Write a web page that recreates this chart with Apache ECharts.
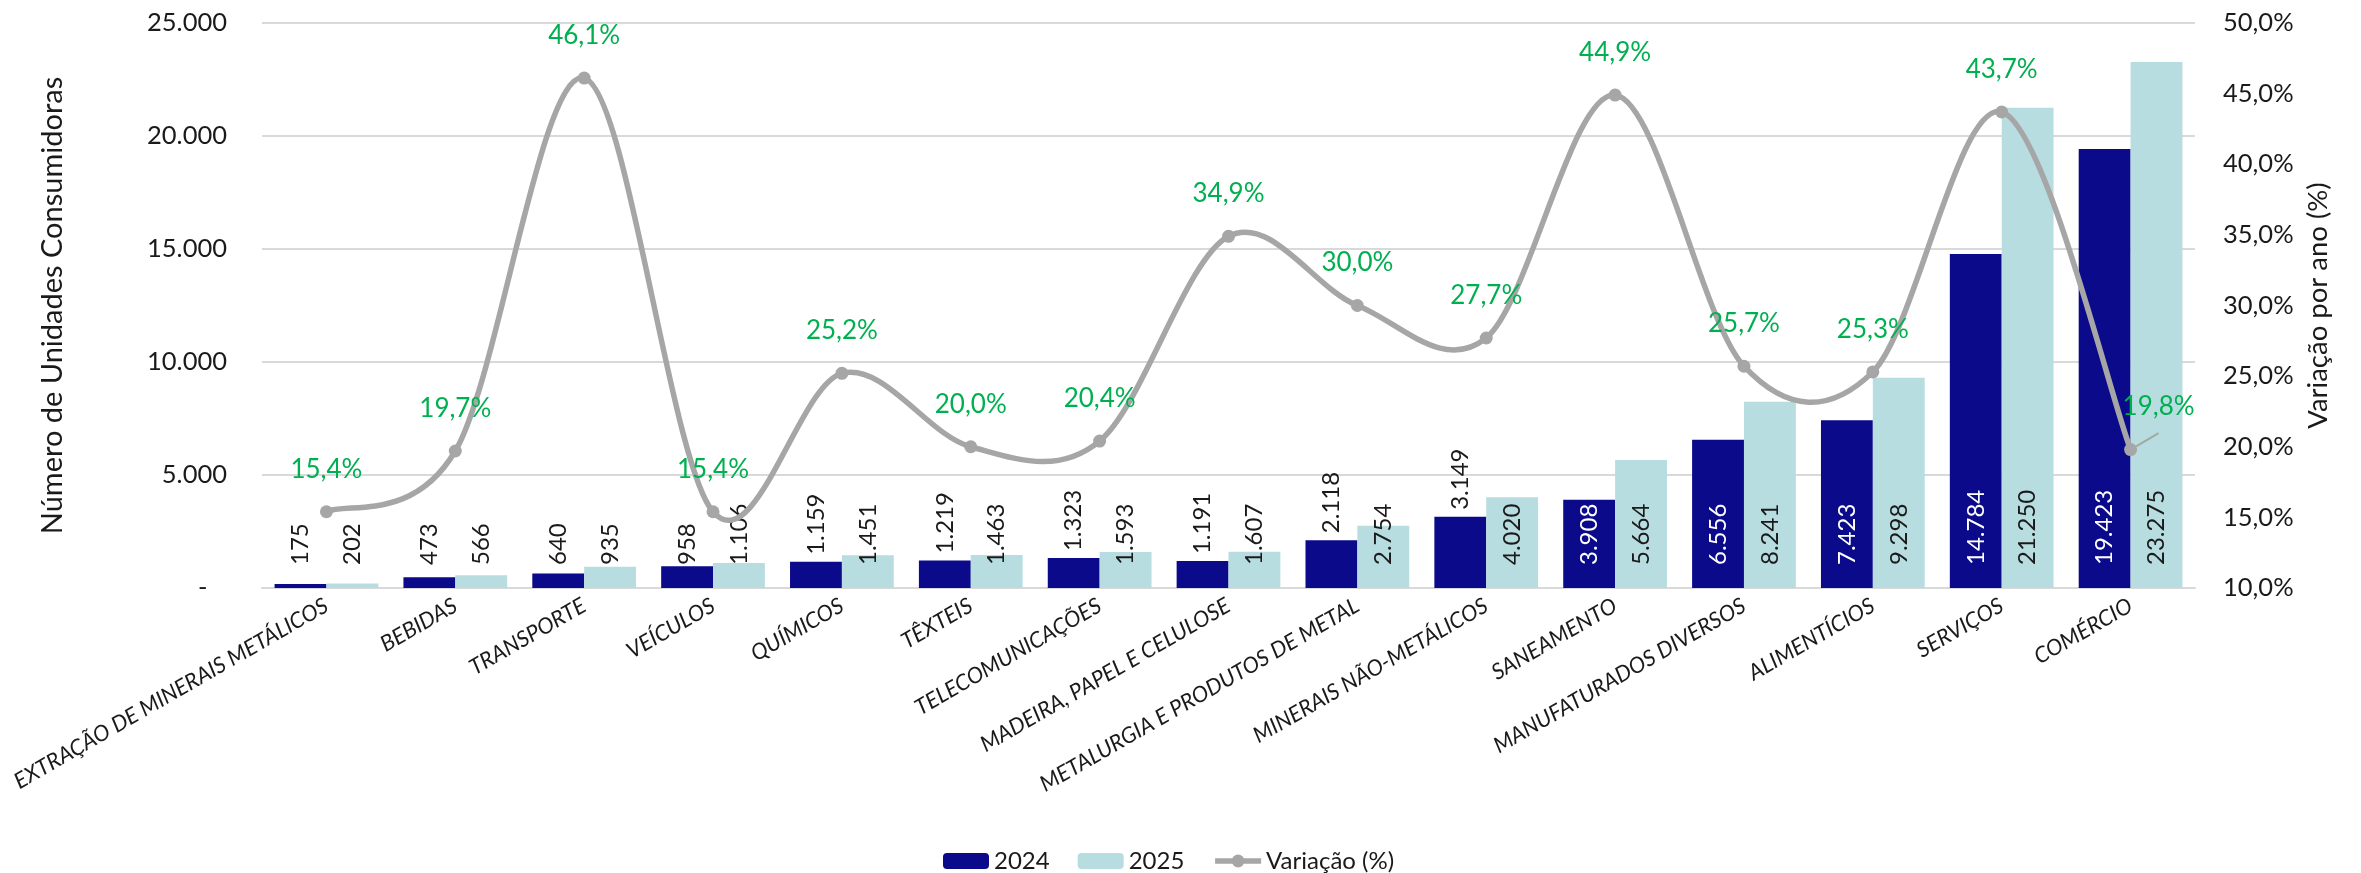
<!DOCTYPE html>
<html>
<head>
<meta charset="utf-8">
<script src="https://cdn.jsdelivr.net/npm/echarts@6/dist/echarts.min.js"></script>
<style>
html,body{margin:0;padding:0;background:#fff;}
#chart{width:2361px;height:873px;}
</style>
</head>
<body>
<div id="chart"></div>
<script>
const categories = ['EXTRAÇÃO DE MINERAIS METÁLICOS','BEBIDAS','TRANSPORTE','VEÍCULOS','QUÍMICOS','TÊXTEIS','TELECOMUNICAÇÕES','MADEIRA, PAPEL E CELULOSE','METALURGIA E PRODUTOS DE METAL','MINERAIS NÃO-METÁLICOS','SANEAMENTO','MANUFATURADOS DIVERSOS','ALIMENTÍCIOS','SERVIÇOS','COMÉRCIO'];
const values2024 = [175,473,640,958,1159,1219,1323,1191,2118,3149,3908,6556,7423,14784,19423];
const values2025 = [202,566,935,1106,1451,1463,1593,1607,2754,4020,5664,8241,9298,21250,23275];
const variation = [15.4,19.7,46.1,15.4,25.2,20.0,20.4,34.9,30.0,27.7,44.9,25.7,25.3,43.7,19.8];
const seriesNames = ['2024','2025','Variação (%)'];
const leftAxisTitle = 'Número de Unidades Consumidoras';
const rightAxisTitle = 'Variação por ano (%)';

function thousands(v){ return String(v).replace(/\B(?=(\d{3})+(?!\d))/g,'.'); }
function pct(v){ return v.toFixed(1).replace('.',',') + '%'; }

const LINE_COLOR = '#A6A6A6';
const LINE_WIDTH = 5.5;

const baseLabel = {show:true, rotate:90, align:'left', verticalAlign:'middle', fontFamily:'Lato', fontSize:24, color:'#1a1a1a', formatter:p=>thousands(p.value)};

function label2024(v){
  if (v >= 3500) return {position:'insideBottom', distance:23, color:'#ffffff'};
  if (v < 1000) return {position:'insideBottom', distance:23};
  return {position:'top', distance:7};
}

// smoothed curve (Catmull-Rom style, like the spreadsheet's smoothed line), drawn through the axis scales
function renderCurve(params, api){
  const i = params.dataIndex;
  const n = variation.length;
  if (i >= n - 1) return null;
  const P = k => { const j = Math.max(0, Math.min(n-1, k)); return api.coord([j, variation[j]]); };
  const p0 = P(i-1), p1 = P(i), p2 = P(i+1), p3 = P(i+2);
  return {
    type:'bezierCurve',
    shape:{
      x1:p1[0], y1:p1[1], x2:p2[0], y2:p2[1],
      cpx1:p1[0] + (p2[0]-p0[0])/6, cpy1:p1[1] + (p2[1]-p0[1])/6,
      cpx2:p2[0] - (p3[0]-p1[0])/6, cpy2:p2[1] - (p3[1]-p1[1])/6
    },
    style:{stroke:LINE_COLOR, lineWidth:LINE_WIDTH, fill:null, lineCap:'round'}
  };
}

const chart = echarts.init(document.getElementById('chart'));
chart.setOption({
  animation:false,
  textStyle:{fontFamily:'Lato'},
  grid:{left:262, right:166, top:23, bottom:285, containLabel:false, outerBoundsMode:'none'},
  legend:{
    top:844, left:938, itemWidth:46, itemHeight:16, itemGap:28,
    textStyle:{fontFamily:'Lato', fontSize:24, color:'#1a1a1a'},
    data:[seriesNames[0], seriesNames[1], {name:seriesNames[2], lineStyle:{opacity:1, width:LINE_WIDTH, color:LINE_COLOR}}]
  },
  xAxis:{
    type:'category', data:categories,
    axisLine:{show:true, lineStyle:{color:'#D9D9D9', width:2}},
    axisTick:{show:false},
    axisLabel:{interval:0, rotate:30, fontStyle:'italic', fontFamily:'Lato', fontSize:22, color:'#1a1a1a', margin:16}
  },
  yAxis:[{
    type:'value', min:0, max:25000, interval:5000,
    name:leftAxisTitle, nameLocation:'middle', nameGap:195,
    nameTextStyle:{fontFamily:'Lato', fontSize:29, color:'#1a1a1a'},
    axisLine:{show:false}, axisTick:{show:false},
    splitLine:{lineStyle:{color:'#D9D9D9', width:2}},
    axisLabel:{fontFamily:'Lato', fontSize:25.5, color:'#1a1a1a', margin:35,
      formatter:v=> v===0 ? '-   ' : thousands(v)}
  },{
    type:'value', min:10, max:50, interval:5,
    name:rightAxisTitle, nameLocation:'middle', nameGap:108,
    nameTextStyle:{fontFamily:'Lato', fontSize:27.5, color:'#1a1a1a'},
    axisLine:{show:false}, axisTick:{show:false}, splitLine:{show:false},
    axisLabel:{fontFamily:'Lato', fontSize:25.5, color:'#1a1a1a', margin:28, formatter:v=>pct(v)}
  }],
  series:[{
    name:seriesNames[0], type:'bar', barGap:'0%', barCategoryGap:'19.5%',
    itemStyle:{color:'#0A0A8A'},
    label:baseLabel,
    data:values2024.map(v=>({value:v, label:label2024(v)}))
  },{
    name:seriesNames[1], type:'bar', barGap:'0%', barCategoryGap:'19.5%',
    itemStyle:{color:'#B7DDE0'},
    label:Object.assign({}, baseLabel, {position:'insideBottom', distance:23}),
    data:values2025
  },{
    name:'curve', type:'custom', yAxisIndex:1, coordinateSystem:'cartesian2d', z:4, silent:true,
    renderItem:renderCurve,
    data:variation.map((v,i)=>[i,v])
  },{
    name:seriesNames[2], type:'line', yAxisIndex:1, z:5,
    symbol:'circle', symbolSize:13,
    lineStyle:{color:LINE_COLOR, width:LINE_WIDTH, opacity:0},
    itemStyle:{color:LINE_COLOR},
    label:{show:true, position:'top', distance:23, color:'#00B050', fontFamily:'Lato', fontSize:26, formatter:p=>pct(p.value)},
    labelLine:{show:false},
    data:variation.map((v,i)=> i===variation.length-1 ? {value:v, label:{offset:[28,0]}, labelLine:{show:true, lineStyle:{color:LINE_COLOR, width:2}}} : v)
  }]
});
</script>
</body>
</html>
